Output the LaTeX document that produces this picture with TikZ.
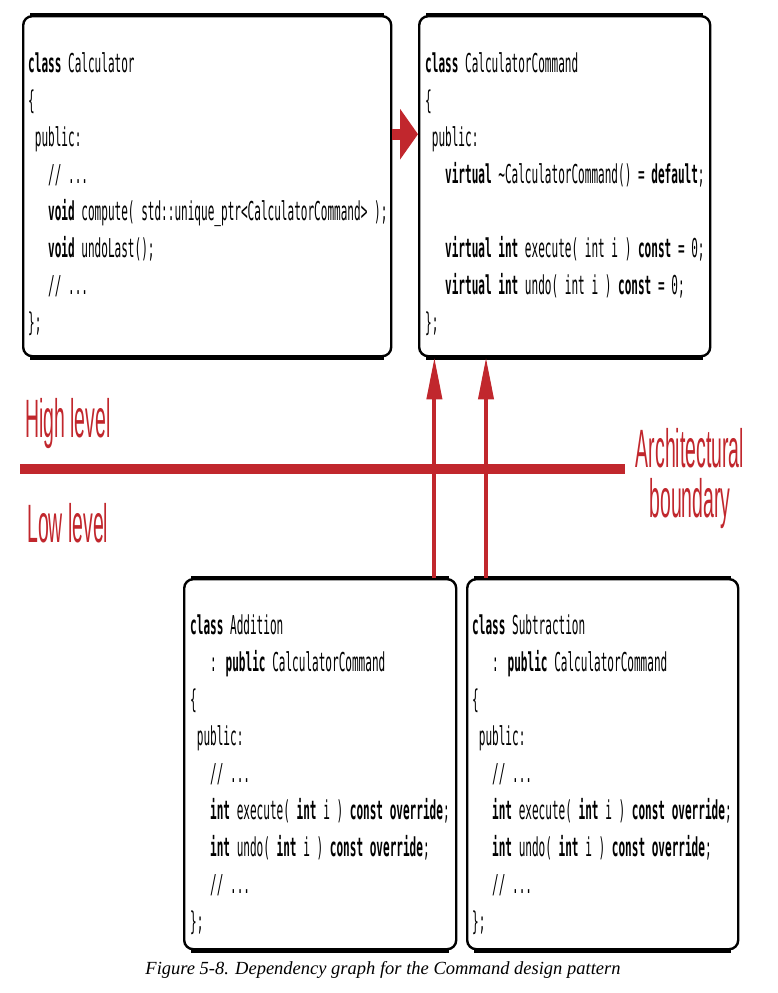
\documentclass[tikz,border=0pt]{standalone}
\usepackage{fontspec}
\usetikzlibrary{arrows.meta,positioning,calc}
\setmainfont{Liberation Serif}
\newfontfamily\codefont[FakeStretch=0.425]{DejaVu Sans Mono}
\newfontfamily\labelfont[FakeStretch=0.36]{Liberation Sans}
\definecolor{bndred}{RGB}{193,39,45}
\newcommand\kw[1]{\textbf{#1}}
\newcommand\ind[1]{\hspace*{#1\fontcharwd\font`\x}}

\begin{document}
\begin{tikzpicture}[x=1pt,y=-1pt,
    codebox/.style={draw,line width=2.4pt,rounded corners=9pt,fill=white,inner sep=0pt,anchor=north west},
    boxedge/.style={line width=4.2pt},
    codetext/.style={font=\codefont\fontsize{26}{37}\selectfont,align=left,inner sep=0pt,anchor=north west},
    redlabel/.style={font=\labelfont\fontsize{54}{50}\selectfont,text=bndred,inner sep=0pt},
    bigarrow/.style={bndred,line width=11pt,-{Triangle[length=18pt,width=50pt]}},
    uparrow/.style={bndred,line width=4pt,-{Triangle[length=42pt,width=15pt]}}]

    \useasboundingbox (0,0) rectangle (778,993);

    % High level classes
    \node[codebox,minimum width=368,minimum height=340] (calc) at (22,15) {};
    \node[codetext] (calctext) at ([shift={(6,37)}]calc.north west) {%
        \kw{class} Calculator\\
        \{\\
        \ind{1}public:\\
        \ind{3}// ...\\
        \ind{3}\kw{void} compute( std::unique\_ptr<CalculatorCommand> );\\
        \ind{3}\kw{void} undoLast();\\
        \ind{3}// ...\\
        \};};

    \node[codebox,minimum width=291,minimum height=340] (cmd) at (418,15) {};
    \node[codetext] (cmdtext) at ([shift={(7,37)}]cmd.north west) {%
        \kw{class} CalculatorCommand\\
        \{\\
        \ind{1}public:\\
        \ind{3}\kw{virtual} \textasciitilde CalculatorCommand() = \kw{default};\\
        \mbox{}\\
        \ind{3}\kw{virtual} \kw{int} execute( int i ) \kw{const} = 0;\\
        \ind{3}\kw{virtual} \kw{int} undo( int i ) \kw{const} = 0;\\
        \};};

    % Low level classes
    \node[codebox,minimum width=272,minimum height=370] (add) at (183,578) {};
    \node[codetext] (addtext) at ([shift={(7,37)}]add.north west) {%
        \kw{class} Addition\\
        \ind{3}: \kw{public} CalculatorCommand\\
        \{\\
        \ind{1}public:\\
        \ind{3}// ...\\
        \ind{3}\kw{int} execute( \kw{int} i ) \kw{const override};\\
        \ind{3}\kw{int} undo( \kw{int} i ) \kw{const override};\\
        \ind{3}// ...\\
        \};};

    \node[codebox,minimum width=271,minimum height=370] (sub) at (466,578) {};
    \node[codetext] (subtext) at ([shift={(6,37)}]sub.north west) {%
        \kw{class} Subtraction\\
        \ind{3}: \kw{public} CalculatorCommand\\
        \{\\
        \ind{1}public:\\
        \ind{3}// ...\\
        \ind{3}\kw{int} execute( \kw{int} i ) \kw{const override};\\
        \ind{3}\kw{int} undo( \kw{int} i ) \kw{const override};\\
        \ind{3}// ...\\
        \};};

    % heavier top and bottom edges
    \foreach \b in {calc,cmd,add,sub} {
        \draw[boxedge] ([xshift=8pt]\b.north west) -- ([xshift=-8pt]\b.north east);
        \draw[boxedge] ([xshift=8pt]\b.south west) -- ([xshift=-8pt]\b.south east);
    }

    % Architectural boundary
    \coordinate (bndleft) at (20,469);
    \coordinate (bndright) at (625,469);
    \draw[bndred,line width=10pt] (bndleft) -- (bndright);

    \node[redlabel,anchor=base west] (high) at (25,437) {High level};
    \node[redlabel,anchor=base west] (low) at (27,542) {Low level};
    \node[redlabel,align=center,anchor=north] (arch) at (690,428) {Architectural\\boundary};

    % Dependencies
    \draw[bigarrow] ([yshift=52pt]calc.east) -- ([yshift=52pt]cmd.west);
    \coordinate (addup) at ([xshift=-23pt]add.north east);
    \coordinate (subup) at ([xshift=20pt]sub.north west);
    \draw[uparrow] (addup) -- (addup |- cmd.south);
    \draw[uparrow] (subup) -- (subup |- cmd.south);

    \node[font=\itshape\fontsize{18.5}{20}\selectfont,anchor=base] (caption) at (383,974)
        {Figure 5-8. Dependency graph for the Command design pattern};

\end{tikzpicture}
\end{document}
